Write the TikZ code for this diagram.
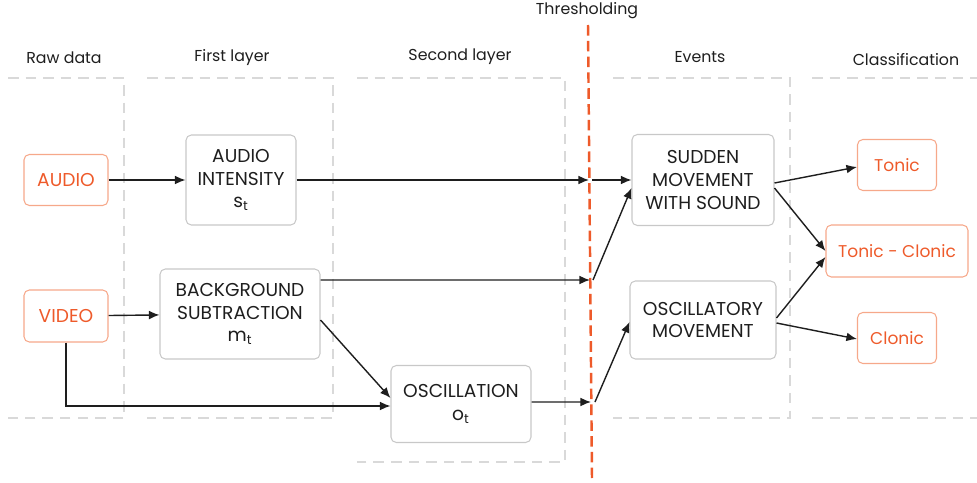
\documentclass[tikz,border=0pt]{standalone}
\usepackage{fontspec}
\setmainfont{Poppins}
\usepackage{tikz}
\usetikzlibrary{arrows.meta, positioning}
\definecolor{seizorange}{HTML}{EE5A2A}
\definecolor{seizframe}{HTML}{F6A88A}
\definecolor{boxgray}{HTML}{C8C8C8}
\definecolor{lanegray}{HTML}{D9D9D9}
\definecolor{inkgray}{HTML}{1E1E1E}

\begin{document}
\begin{tikzpicture}[
    x=0.02cm, y=-0.02cm,
    box/.style={
        rectangle, draw=boxgray, line width=0.6pt,
        rounded corners=3pt, font=\fontsize{10.6}{13}\selectfont,
        text=inkgray, align=center, inner sep=2pt
    },
    srcbox/.style={
        rectangle, draw=seizframe, line width=0.6pt,
        rounded corners=3pt, font=\fontsize{10.6}{13}\selectfont,
        text=seizorange, align=center, inner sep=2pt
    },
    clsbox/.style={srcbox, font=\fontsize{9.7}{12}\selectfont},
    header/.style={font=\fontsize{9}{11}\selectfont, text=inkgray},
    lane/.style={draw=lanegray, line width=0.7pt, dash pattern=on 6pt off 4pt},
    thresh/.style={draw=seizorange, line width=1.4pt, dash pattern=on 6pt off 3pt},
    arr/.style={-{Latex[length=6pt,width=5pt]}, line width=0.8pt, inkgray}
]
\useasboundingbox (0,0) rectangle (977,483);

% lanes
\draw[lane] (8,78) -- (124,78) -- (124,418) -- (8,418);
\draw[lane] (147,78) -- (333,78) -- (333,418) -- (147,418);
\draw[lane] (357,78) -- (565,78) -- (565,462) -- (357,462);
\draw[lane] (613,78) -- (790,78) -- (790,418) -- (613,418);
\draw[lane] (812,78) -- (977,78);
\draw[lane] (812,418) -- (977,418);

% headers
\node[header] (hraw)   at (64,58)  {Raw data};
\node[header] (hfirst) at (232,58) {First layer};
\node[header] (hsec)   at (460,57) {Second layer};
\node[header] (hthr)   at (587,11) {Thresholding};
\node[header] (hev)    at (700,57) {Events};
\node[header] (hcls)   at (906,60) {Classification};

% thresholding line
\coordinate (thtop) at (588,25);
\coordinate (thbot) at (592,478);
\draw[thresh] (thtop) -- (thbot);
\coordinate (th1) at (589,180);
\coordinate (th2) at (590,280);
\coordinate (th3) at (591,402);

% nodes
\node[srcbox, minimum width=1.68cm, minimum height=1.02cm] (audio) at (66,180) {AUDIO};
\node[srcbox, minimum width=1.68cm, minimum height=1.04cm] (video) at (66,316) {VIDEO};
\node[box, minimum width=2.2cm, minimum height=1.8cm] (intens) at (241,180)
    {AUDIO\\INTENSITY\\s\textsubscript{t}};
\node[box, minimum width=3.2cm, minimum height=1.8cm] (bgsub) at (240,314)
    {BACKGROUND\\SUBTRACTION\\m\textsubscript{t}};
\node[box, minimum width=2.8cm, minimum height=1.54cm] (oscil) at (461,404)
    {OSCILLATION\\o\textsubscript{t}};
\node[box, minimum width=2.84cm, minimum height=1.82cm] (sudden) at (703,180)
    {SUDDEN\\MOVEMENT\\WITH SOUND};
\node[box, minimum width=2.92cm, minimum height=1.56cm] (oscmov) at (703,320)
    {OSCILLATORY\\MOVEMENT};
\node[clsbox, minimum width=1.58cm, minimum height=1.02cm] (tonic) at (897,165) {Tonic};
\node[clsbox, minimum width=2.84cm, minimum height=1.04cm] (toncl) at (897,251) {Tonic - Clonic};
\node[clsbox, minimum width=1.58cm, minimum height=1.02cm] (clonic) at (897,338) {Clonic};

% connectors
\draw[arr] (audio) -- (intens);
\draw[arr] (video) -- (bgsub);
\draw[arr] (video.south) |- ([yshift=-0.04cm]oscil.west);
\draw[arr] ([yshift=-0.12cm]bgsub.east) -- ([yshift=0.12cm]oscil.west);
\draw[arr] (intens.east) -- (th1);
\draw[arr] ([yshift=0.68cm]bgsub.east) -- (th2);
\draw[arr] ([yshift=0.04cm]oscil.east) -- (th3);
\draw[arr] ([xshift=0.06cm]th1) -- (sudden.west);
\draw[arr] ([xshift=0.06cm]th2) -- ([yshift=-0.16cm]sudden.west);
\draw[arr] ([xshift=0.08cm]th3) -- ([yshift=-0.04cm]oscmov.west);
\draw[arr] ([yshift=-0.06cm]sudden.east) -- ([yshift=-0.04cm]tonic.west);
\draw[arr] ([yshift=-0.16cm]sudden.east) -- (toncl.west);
\draw[arr] ([yshift=0.04cm]oscmov.east) -- ([yshift=-0.12cm]toncl.west);
\draw[arr] ([yshift=-0.06cm]oscmov.east) -- ([yshift=-0.02cm]clonic.west);
\end{tikzpicture}
\end{document}
